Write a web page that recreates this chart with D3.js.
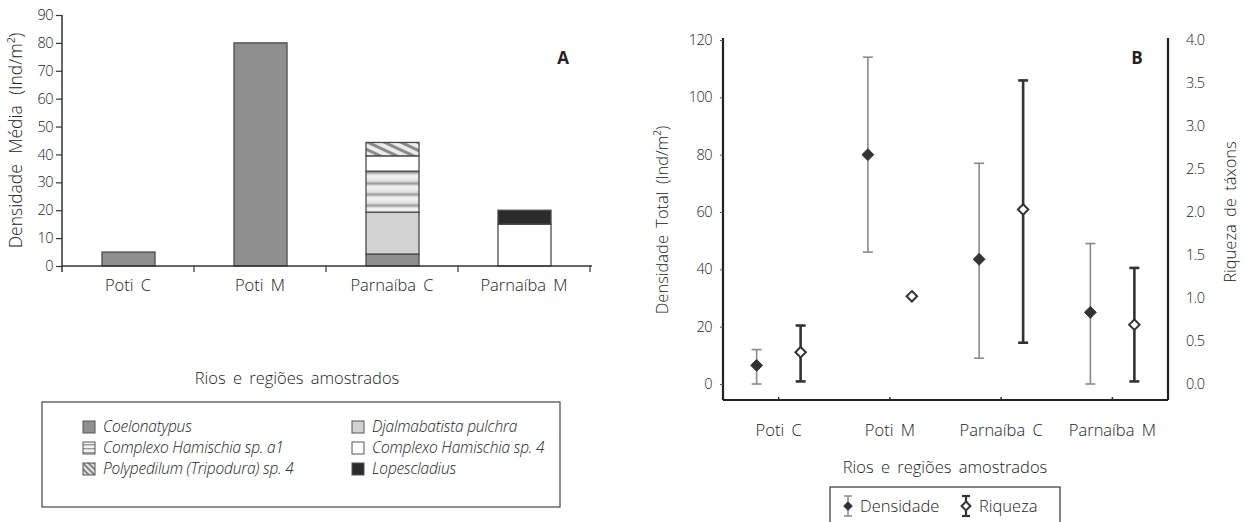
<!DOCTYPE html>
<html>
<head>
<meta charset="utf-8">
<script src="https://cdn.jsdelivr.net/npm/d3@7"></script>
<style>
  html, body { margin: 0; padding: 0; background: #fff; }
  svg { display: block; }
  text { font-family: "Open Sans", "Noto Sans", sans-serif; fill: #222; font-weight: 300; }
</style>
</head>
<body>
<svg id="chart" width="1245" height="522"></svg>
<script>
// ---- Panel A: mean density by taxon (stacked) ----
const categories = ["Poti C", "Poti M", "Parnaíba C", "Parnaíba M"];
const coelonatypus  = [5, 80, 4.3, 0];
const djalmabatista = [0, 0, 15, 0];
const hamischiaA1   = [0, 0, 14.7, 0];
const hamischiaSp4  = [0, 0, 5.5, 15];
const polypedilum   = [0, 0, 4.8, 0];
const lopescladius  = [0, 0, 0, 5];
const densTicksA = [0, 10, 20, 30, 40, 50, 60, 70, 80, 90];

// ---- Panel B: total density and richness (mean with range) ----
const densMean = [6.5, 80, 43.5, 25];
const densLow  = [0, 46, 9, 0];
const densHigh = [12, 114, 77, 49];
const richMean = [0.37, 1.02, 2.03, 0.69];
const richLow  = [0.03, 1.02, 0.48, 0.03];
const richHigh = [0.68, 1.02, 3.53, 1.35];
const densTicksB = [0, 20, 40, 60, 80, 100, 120];
const richTicks = [0, 0.5, 1, 1.5, 2, 2.5, 3, 3.5, 4];

const svg = d3.select("#chart");
const defs = svg.append("defs");

// horizontal banded fill
const grad = defs.append("linearGradient").attr("id", "bandGrad")
  .attr("x1", 0).attr("y1", 0).attr("x2", 0).attr("y2", 1);
[[0, "#f4f4f4"], [0.45, "#e0e0e0"], [0.7, "#9a9a9a"], [0.85, "#d8d8d8"], [1, "#f4f4f4"]]
  .forEach(([o, c]) => grad.append("stop").attr("offset", o).attr("stop-color", c));
const band = defs.append("pattern").attr("id", "bands")
  .attr("patternUnits", "userSpaceOnUse").attr("width", 10).attr("height", 11);
band.append("rect").attr("width", 10).attr("height", 11).attr("fill", "url(#bandGrad)");

// diagonal hatch (falling to the right)
const hatch = defs.append("pattern").attr("id", "hatch")
  .attr("patternUnits", "userSpaceOnUse").attr("width", 7).attr("height", 7)
  .attr("patternTransform", "rotate(25)");
hatch.append("rect").attr("width", 7).attr("height", 7).attr("fill", "#ececec");
hatch.append("rect").attr("width", 7).attr("height", 3).attr("fill", "#8a8a8a");

const legHatch = defs.append("pattern").attr("id", "legHatch")
  .attr("patternUnits", "userSpaceOnUse").attr("width", 4).attr("height", 4)
  .attr("patternTransform", "rotate(45)");
legHatch.append("rect").attr("width", 4).attr("height", 4).attr("fill", "#e6e6e6");
legHatch.append("rect").attr("width", 4).attr("height", 1.8).attr("fill", "#777");

// small legend stripes
const legBand = defs.append("pattern").attr("id", "legBands")
  .attr("patternUnits", "userSpaceOnUse").attr("width", 4).attr("height", 4);
legBand.append("rect").attr("width", 4).attr("height", 4).attr("fill", "#f2f2f2");
legBand.append("rect").attr("width", 4).attr("height", 1.4).attr("fill", "#9a9a9a");

const taxa = [
  { key: "coelonatypus",  name: "Coelonatypus", values: coelonatypus,  fill: "#8f8f8f" },
  { key: "djalmabatista", name: "Djalmabatista  pulchra", values: djalmabatista, fill: "#d2d2d2" },
  { key: "hamischiaA1",   name: "Complexo Hamischia sp. a1", values: hamischiaA1, fill: "url(#bands)", legFill: "url(#legBands)" },
  { key: "hamischiaSp4",  name: "Complexo Hamischia sp. 4", values: hamischiaSp4, fill: "#ffffff" },
  { key: "polypedilum",   name: "Polypedilum (Tripodura) sp. 4", values: polypedilum, fill: "url(#hatch)", legFill: "url(#legHatch)" },
  { key: "lopescladius",  name: "Lopescladius", values: lopescladius, fill: "#2b2b2b" }
];

// ===== Panel A =====
const A = { left: 62, right: 590, top: 15, bottom: 266 };
const xAband = d3.scaleBand().domain(categories).range([A.left, A.right]);
const yA = d3.scaleLinear().domain([0, 90]).range([A.bottom, A.top]);

const rows = categories.map((c, i) => {
  const r = { cat: c };
  taxa.forEach(t => r[t.key] = t.values[i]);
  return r;
});
const stacked = d3.stack().keys(taxa.map(t => t.key))(rows);

const gA = svg.append("g");
stacked.forEach((layer, li) => {
  const t = taxa[li];
  gA.append("g").selectAll("rect")
    .data(layer.filter(d => d[1] - d[0] > 0))
    .join("rect")
    .attr("x", d => xAband(d.data.cat) + xAband.bandwidth() / 2 - 26)
    .attr("width", 53)
    .attr("y", d => yA(d[1]))
    .attr("height", d => yA(d[0]) - yA(d[1]))
    .attr("fill", t.fill)
    .attr("stroke", "#4a4a4a")
    .attr("stroke-width", 1.3);
});

// y axis A
const yAxisA = d3.axisLeft(yA).tickValues(densTicksA).tickSize(6).tickPadding(3);
const gyA = gA.append("g").attr("transform", `translate(${A.left},0)`).call(yAxisA);
gyA.select(".domain").remove();
gA.append("line").attr("x1", A.left).attr("x2", A.left).attr("y1", A.top).attr("y2", A.bottom + 6)
  .attr("stroke", "#333").attr("stroke-width", 1.5);
gyA.selectAll(".tick line").attr("stroke", "#333").attr("stroke-width", 1.2);
gyA.selectAll(".tick text").attr("font-size", 14.5).attr("fill", "#333")
  .style("font-family", "'Open Sans', sans-serif").style("font-weight", 300).style("letter-spacing", "-0.5px");

// x axis A
gA.append("line").attr("x1", A.left).attr("x2", A.right + 2).attr("y1", A.bottom).attr("y2", A.bottom)
  .attr("stroke", "#333").attr("stroke-width", 1.5);
gA.selectAll(".sep").data(categories).join("line")
  .attr("x1", d => xAband(d) + xAband.bandwidth()).attr("x2", d => xAband(d) + xAband.bandwidth())
  .attr("y1", A.bottom).attr("y2", A.bottom + 6).attr("stroke", "#333").attr("stroke-width", 1.2);
gA.selectAll(".catA").data(categories).join("text")
  .attr("x", d => xAband(d) + xAband.bandwidth() / 2).attr("y", 291)
  .attr("text-anchor", "middle").attr("font-size", 16.5).attr("word-spacing", 3).text(d => d);

gA.append("text").attr("transform", `translate(22,${(A.top + A.bottom) / 2}) rotate(-90)`)
  .attr("text-anchor", "middle").attr("font-size", 17.5).attr("word-spacing", 6)
  .text("Densidade Média (Ind/m²)");
gA.append("text").attr("x", 563).attr("y", 64).attr("text-anchor", "middle")
  .attr("font-size", 17).style("font-weight", 700).attr("fill", "#222").text("A");
gA.append("text").attr("x", 297).attr("y", 384).attr("text-anchor", "middle")
  .attr("font-size", 16.5).attr("word-spacing", 3).text("Rios e regiões amostrados");

// legend A
gA.append("rect").attr("x", 42).attr("y", 402).attr("width", 518).attr("height", 105)
  .attr("fill", "none").attr("stroke", "#444").attr("stroke-width", 1.2);
const legendOrder = ["coelonatypus", "hamischiaA1", "polypedilum", "djalmabatista", "hamischiaSp4", "lopescladius"];
legendOrder.forEach((k, i) => {
  const t = taxa.find(d => d.key === k);
  const col = Math.floor(i / 3), row = i % 3;
  const x = col === 0 ? 83 : 352, y = 421 + row * 21;
  gA.append("rect").attr("x", x).attr("y", y).attr("width", 12).attr("height", 12)
    .attr("fill", t.legFill || t.fill).attr("stroke", "#555").attr("stroke-width", 1);
  gA.append("text").attr("x", x + 20).attr("y", y + 11).attr("font-size", 15.5)
    .attr("font-style", "italic").attr("letter-spacing", -0.2).text(t.name);
});

// ===== Panel B =====
const B = { left: 723, right: 1168, top: 40, bottom: 384, axisY: 400 };
const xB = d3.scaleBand().domain(categories).range([B.left, B.right]);
const yB = d3.scaleLinear().domain([0, 120]).range([B.bottom, B.top]);
const yR = d3.scaleLinear().domain([0, 4]).range([B.bottom, B.top]);
const off = 22;
const gB = svg.append("g");

// axes frame
gB.append("line").attr("x1", B.left).attr("x2", B.left).attr("y1", B.top - 2).attr("y2", B.axisY)
  .attr("stroke", "#222").attr("stroke-width", 2.2);
gB.append("line").attr("x1", B.right).attr("x2", B.right).attr("y1", B.top - 2).attr("y2", B.axisY)
  .attr("stroke", "#222").attr("stroke-width", 2.2);
gB.append("line").attr("x1", B.left).attr("x2", B.right).attr("y1", B.axisY).attr("y2", B.axisY)
  .attr("stroke", "#222").attr("stroke-width", 2.2);

const gyB = gB.append("g").attr("transform", `translate(${B.left},0)`)
  .call(d3.axisLeft(yB).tickValues(densTicksB).tickSize(3).tickPadding(8));
gyB.select(".domain").remove();
gyB.selectAll(".tick line").attr("stroke", "#555");
gyB.selectAll(".tick text").attr("font-size", 14.5).attr("fill", "#333")
  .style("font-family", "'Open Sans', sans-serif").style("font-weight", 300).style("letter-spacing", "-0.5px");

const gyR = gB.append("g").attr("transform", `translate(${B.right},0)`)
  .call(d3.axisRight(yR).tickValues(richTicks).tickSize(0).tickPadding(18).tickFormat(d3.format(".1f")));
gyR.select(".domain").remove();
gyR.selectAll(".tick text").attr("font-size", 14.5).attr("fill", "#333")
  .style("font-family", "'Open Sans', sans-serif").style("font-weight", 300).style("letter-spacing", "-0.5px");

gB.selectAll(".tickB").data(categories).join("line")
  .attr("x1", d => xB(d) + xB.bandwidth() / 2).attr("x2", d => xB(d) + xB.bandwidth() / 2)
  .attr("y1", B.axisY - 3).attr("y2", B.axisY).attr("stroke", "#333").attr("stroke-width", 1.5);
gB.selectAll(".catB").data(categories).join("text")
  .attr("x", d => xB(d) + xB.bandwidth() / 2).attr("y", 436)
  .attr("text-anchor", "middle").attr("font-size", 16.5).attr("word-spacing", 3).text(d => d);

// density error bars + filled diamonds
const dx = i => xB(categories[i]) + xB.bandwidth() / 2 - off;
const rx = i => xB(categories[i]) + xB.bandwidth() / 2 + off;
const cap = 5;
const diamond = d3.symbol().type(d3.symbolDiamond2).size(90);

categories.forEach((c, i) => {
  const x = dx(i);
  const g = gB.append("g").attr("stroke", "#8a8a8a").attr("stroke-width", 1.6);
  g.append("line").attr("x1", x).attr("x2", x).attr("y1", yB(densLow[i])).attr("y2", yB(densHigh[i]));
  g.append("line").attr("x1", x - cap).attr("x2", x + cap).attr("y1", yB(densLow[i])).attr("y2", yB(densLow[i]));
  g.append("line").attr("x1", x - cap).attr("x2", x + cap).attr("y1", yB(densHigh[i])).attr("y2", yB(densHigh[i]));
  gB.append("path").attr("d", diamond).attr("transform", `translate(${x},${yB(densMean[i])})`)
    .attr("fill", "#333").attr("stroke", "#333");
});

categories.forEach((c, i) => {
  const x = rx(i);
  if (richHigh[i] > richLow[i]) {
    const g = gB.append("g").attr("stroke", "#333").attr("stroke-width", 2.6);
    g.append("line").attr("x1", x).attr("x2", x).attr("y1", yR(richLow[i])).attr("y2", yR(richHigh[i]));
    g.append("line").attr("x1", x - cap).attr("x2", x + cap).attr("y1", yR(richLow[i])).attr("y2", yR(richLow[i]));
    g.append("line").attr("x1", x - cap).attr("x2", x + cap).attr("y1", yR(richHigh[i])).attr("y2", yR(richHigh[i]));
  }
  gB.append("path").attr("d", d3.symbol().type(d3.symbolDiamond2).size(70))
    .attr("transform", `translate(${x},${yR(richMean[i])})`)
    .attr("fill", "#fff").attr("stroke", "#333").attr("stroke-width", 2);
});

gB.append("text").attr("transform", `translate(668,${(B.top + B.bottom) / 2 + 8}) rotate(-90)`)
  .attr("text-anchor", "middle").attr("font-size", 16.5).attr("word-spacing", 3).text("Densidade Total (Ind/m²)");
gB.append("text").attr("transform", `translate(1236,${(B.top + B.bottom) / 2}) rotate(-90)`)
  .attr("text-anchor", "middle").attr("font-size", 16.5).attr("word-spacing", 3).text("Riqueza de táxons");
gB.append("text").attr("x", 1137).attr("y", 64).attr("text-anchor", "middle")
  .attr("font-size", 17).style("font-weight", 700).attr("fill", "#222").text("B");
gB.append("text").attr("x", 945).attr("y", 473).attr("text-anchor", "middle")
  .attr("font-size", 16.5).attr("word-spacing", 3).text("Rios e regiões amostrados");

// legend B
gB.append("rect").attr("x", 830).attr("y", 487).attr("width", 230).attr("height", 45)
  .attr("fill", "none").attr("stroke", "#333").attr("stroke-width", 1.2);
const lg1 = gB.append("g").attr("transform", "translate(848,506)");
lg1.append("g").attr("stroke", "#8a8a8a").attr("stroke-width", 1.5).call(g => {
  g.append("line").attr("x1", 0).attr("x2", 0).attr("y1", -10).attr("y2", 10);
  g.append("line").attr("x1", -4).attr("x2", 4).attr("y1", -10).attr("y2", -10);
  g.append("line").attr("x1", -4).attr("x2", 4).attr("y1", 10).attr("y2", 10);
});
lg1.append("path").attr("d", d3.symbol().type(d3.symbolDiamond2).size(60)).attr("fill", "#333");
lg1.append("text").attr("x", 12).attr("y", 6).attr("font-size", 16.5).text("Densidade");
const lg2 = gB.append("g").attr("transform", "translate(966,506)");
lg2.append("g").attr("stroke", "#333").attr("stroke-width", 2.2).call(g => {
  g.append("line").attr("x1", 0).attr("x2", 0).attr("y1", -10).attr("y2", 10);
  g.append("line").attr("x1", -4).attr("x2", 4).attr("y1", -10).attr("y2", -10);
  g.append("line").attr("x1", -4).attr("x2", 4).attr("y1", 10).attr("y2", 10);
});
lg2.append("path").attr("d", d3.symbol().type(d3.symbolDiamond2).size(50))
  .attr("fill", "#fff").attr("stroke", "#333").attr("stroke-width", 2);
lg2.append("text").attr("x", 13).attr("y", 6).attr("font-size", 16.5).text("Riqueza");
</script>
</body>
</html>
